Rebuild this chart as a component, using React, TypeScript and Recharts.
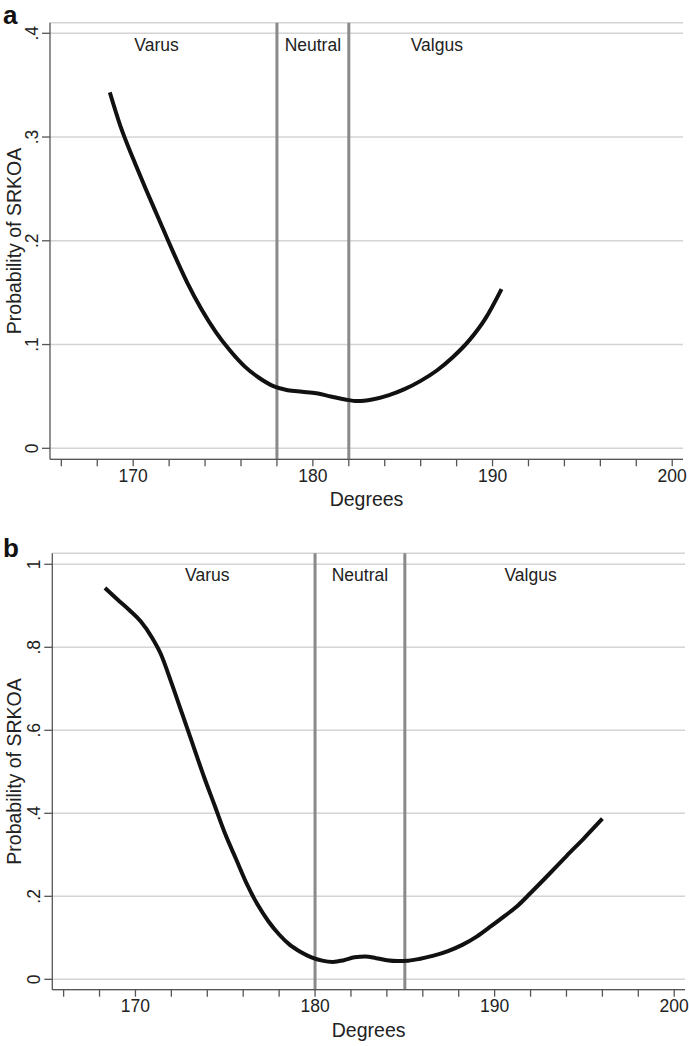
import React from 'react';
import { LineChart, Line, XAxis, YAxis, CartesianGrid, ReferenceLine, ReferenceDot } from 'recharts';

const FONT = '"Liberation Sans", Arial, Helvetica, sans-serif';

// Panel a
const degreesA = [168.7, 169.3, 170.0, 170.7, 171.4, 172.2, 173.0, 173.8, 174.6, 175.4, 176.2, 177.0, 177.8, 178.6, 179.4, 180.2, 181.0, 181.8, 182.5, 183.3, 184.2, 185.1, 186.0, 186.9, 187.8, 188.7, 189.6, 190.5];
const probA = [0.343, 0.31, 0.279, 0.25, 0.222, 0.19, 0.16, 0.134, 0.112, 0.094, 0.079, 0.068, 0.06, 0.056, 0.0545, 0.053, 0.05, 0.047, 0.0455, 0.047, 0.051, 0.057, 0.065, 0.075, 0.088, 0.104, 0.125, 0.1535];

// Panel b
const degreesB = [168.3, 169.0, 169.7, 170.3, 170.9, 171.4, 172.0, 172.6, 173.2, 173.8, 174.4, 175.0, 175.6, 176.2, 176.8, 177.4, 178.0, 178.6, 179.2, 179.8, 180.4, 181.0, 181.6, 182.2, 182.8, 183.4, 184.0, 184.6, 185.2, 185.8, 186.6, 187.4, 188.2, 189.0, 189.8, 190.6, 191.3, 192.0, 193.0, 194.0, 195.0, 196.0];
const probB = [0.943, 0.915, 0.888, 0.862, 0.825, 0.785, 0.715, 0.64, 0.565, 0.49, 0.42, 0.35, 0.29, 0.23, 0.18, 0.14, 0.108, 0.083, 0.066, 0.053, 0.045, 0.042, 0.046, 0.053, 0.055, 0.051, 0.046, 0.044, 0.045, 0.049, 0.057, 0.068, 0.083, 0.103, 0.128, 0.154, 0.178, 0.208, 0.252, 0.297, 0.341, 0.387];

const xTicks = [166, 168, 170, 172, 174, 176, 178, 180, 182, 184, 186, 188, 190, 192, 194, 196, 198, 200];
const yTicksA = [0, 0.1, 0.2, 0.3, 0.4];
const yTicksB = [0, 0.2, 0.4, 0.6, 0.8, 1];
const zoneNames = ['Varus', 'Neutral', 'Valgus'];
const zoneXA = [171.3, 180, 186.9];
const zoneYA = 0.389;
const zoneXB = [174.0, 182.5, 192.0];
const zoneYB = 0.974;
const boundsA = [178, 182];
const boundsB = [180, 185];

const dataA = degreesA.map((d, i) => ({ x: d, y: probA[i] }));
const dataB = degreesB.map((d, i) => ({ x: d, y: probB[i] }));

const fmtY = (v: number) => {
  if (v === 0) return '0';
  if (v === 1) return '1';
  return String(Number(v.toFixed(2))).replace(/^0/, '');
};

const XTick = (props: any) => {
  const { x, y, payload } = props;
  if (Math.round(payload.value) % 10 !== 0) return null;
  return (
    <text x={x} y={y} dy="0.71em" textAnchor="middle" fontSize={17.5} fontFamily={FONT} fill="#222">
      {payload.value}
    </text>
  );
};

const YTick = (props: any) => {
  const { x, y, payload } = props;
  return (
    <text x={x} y={y} transform={`rotate(-90, ${x}, ${y})`} textAnchor="middle" fontSize={17.5} fontFamily={FONT} fill="#222">
      {fmtY(payload.value)}
    </text>
  );
};

const YTitle = (props: any) => {
  const vb = props.viewBox || {};
  const cx = (vb.x || 0) + 21;
  const cy = (vb.y || 0) + (vb.height || 0) / 2;
  return (
    <text x={cx} y={cy} transform={`rotate(-90, ${cx}, ${cy})`} textAnchor="middle" fontSize={19.5} fontFamily={FONT} fill="#222">
      Probability of SRKOA
    </text>
  );
};

const XTitle = (props: any) => {
  const vb = props.viewBox || {};
  const cx = (vb.x || 0) + (vb.width || 0) / 2;
  const cy = (vb.y || 0) + 47;
  return (
    <text x={cx} y={cy} textAnchor="middle" fontSize={19.5} fontFamily={FONT} fill="#222">
      Degrees
    </text>
  );
};

type PanelProps = {
  data: { x: number; y: number }[];
  height: number;
  marginTop: number;
  marginRight: number;
  yWidth: number;
  xHeight: number;
  yDomain: [number, number];
  yTicks: number[];
  bounds: number[];
  zoneX: number[];
  zoneY: number;
};

const Panel = (p: PanelProps) => (
  <LineChart
    width={689}
    height={p.height}
    data={p.data}
    margin={{ top: p.marginTop, right: p.marginRight, bottom: 0, left: 0 }}
    style={{ fontFamily: FONT }}
  >
    <CartesianGrid vertical={false} stroke="#d4d4d4" strokeWidth={1.5} />
    <XAxis
      dataKey="x"
      type="number"
      domain={[165.37, 200.6]}
      ticks={xTicks}
      interval={0}
      allowDataOverflow
      height={p.xHeight}
      tickSize={7}
      tickMargin={3}
      stroke="#555"
      strokeWidth={1.3}
      tick={<XTick />}
      label={<XTitle />}
    />
    <YAxis
      type="number"
      domain={p.yDomain}
      ticks={p.yTicks}
      interval={0}
      allowDataOverflow
      width={p.yWidth}
      tickSize={8}
      tickMargin={4}
      stroke="#555"
      strokeWidth={1.3}
      tick={<YTick />}
      label={<YTitle />}
    />
    {p.bounds.map((b) => (
      <ReferenceLine key={b} x={b} stroke="#8a8a8a" strokeWidth={3} />
    ))}
    {zoneNames.map((n, i) => (
      <ReferenceDot
        key={n}
        x={p.zoneX[i]}
        y={p.zoneY}
        r={0}
        fill="none"
        stroke="none"
        label={{ value: n, position: 'center', fontSize: 17.5, fill: '#222', fontFamily: FONT }}
      />
    ))}
    <Line
      dataKey="y"
      type="monotone"
      stroke="#111"
      strokeWidth={4}
      dot={false}
      isAnimationActive={false}
    />
  </LineChart>
);

export default function App() {
  return (
    <div style={{ position: 'absolute', left: 0, top: 0, width: 689, height: 1046, background: '#fff' }}>
      <div style={{ position: 'absolute', left: 0, top: 0 }}>
        <Panel
          data={dataA}
          height={520}
          marginTop={22.7}
          marginRight={6}
          yWidth={50}
          xHeight={60.7}
          yDomain={[-0.0106, 0.4102]}
          yTicks={yTicksA}
          bounds={boundsA}
          zoneX={zoneXA}
          zoneY={zoneYA}
        />
      </div>
      <div style={{ position: 'absolute', left: 0, top: 530 }}>
        <Panel
          data={dataB}
          height={516}
          marginTop={23.3}
          marginRight={4}
          yWidth={52.3}
          xHeight={56.3}
          yDomain={[-0.025, 1.0265]}
          yTicks={yTicksB}
          bounds={boundsB}
          zoneX={zoneXB}
          zoneY={zoneYB}
        />
      </div>
      <svg width={689} height={1046} style={{ position: 'absolute', left: 0, top: 0, pointerEvents: 'none' }}>
        <text x={3} y={24} fontSize={26} fontWeight="bold" fontFamily={FONT} fill="#111">a</text>
        <text x={3} y={557} fontSize={26} fontWeight="bold" fontFamily={FONT} fill="#111">b</text>
      </svg>
    </div>
  );
}
